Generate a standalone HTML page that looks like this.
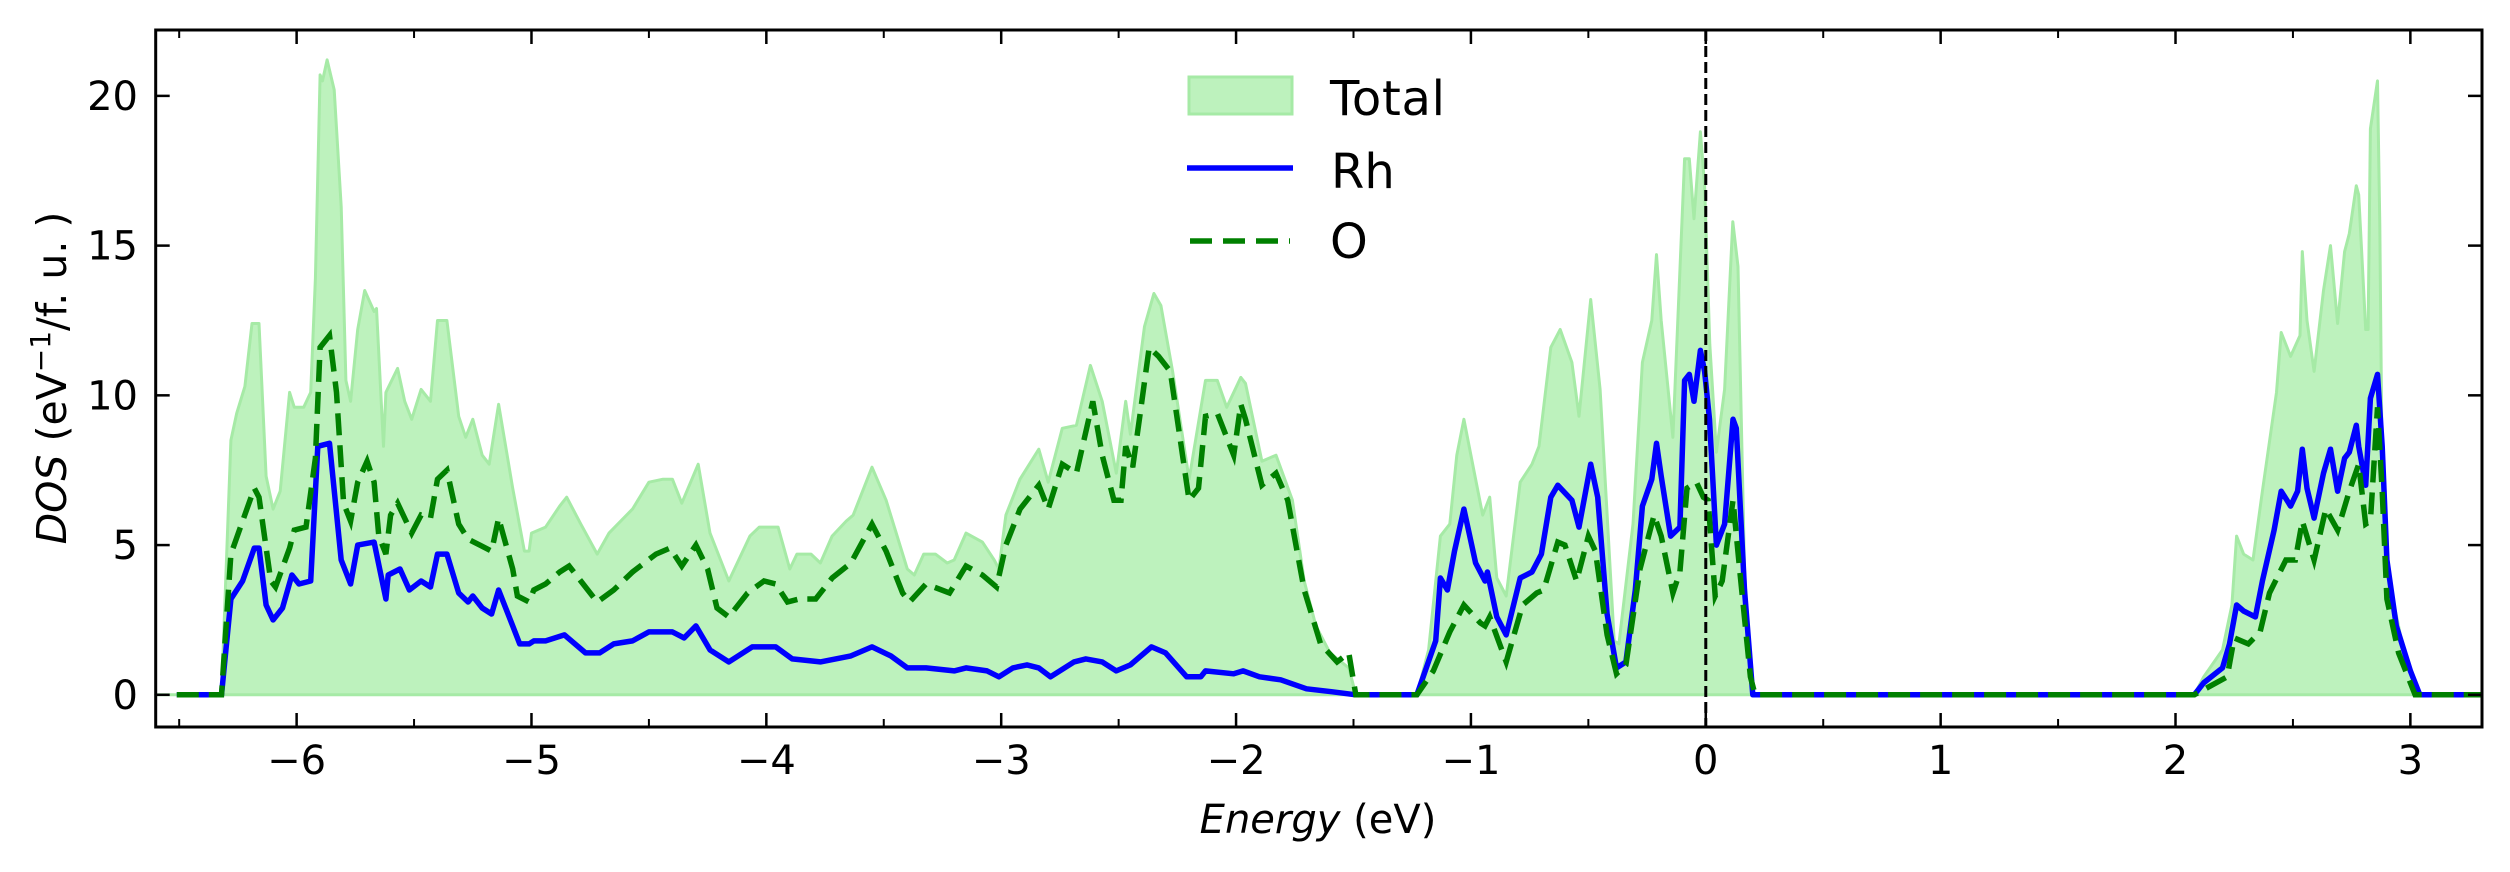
<!DOCTYPE html>
<html><head><meta charset="utf-8">
<style>
html,body{margin:0;padding:0;background:#fff;}
svg{display:block;font-family:"DejaVu Sans","Liberation Sans",sans-serif;}
</style></head>
<body>
<svg id="chart" width="2510" height="872" viewBox="0 0 2510 872" xmlns="http://www.w3.org/2000/svg">
<rect width="2510" height="872" fill="#fff"/>
<g id="plot"></g>
<g id="axes"></g>
<g>
  <rect x="1189" y="77" width="103" height="37" fill="#bdf2bd" stroke="#a6eaa6" stroke-width="3"/>
  <text x="1330" y="115" font-size="48" textLength="115">Total</text>
  <line x1="1187" y1="168" x2="1293" y2="168" stroke="#0000ff" stroke-width="5.5"/>
  <text x="1331" y="188" font-size="48">Rh</text>
  <line x1="1190" y1="241" x2="1290" y2="241" stroke="#008000" stroke-width="5.5" stroke-dasharray="22 11"/>
  <text x="1330" y="258" font-size="48">O</text>
</g>
<text x="1318" y="833" font-size="40" text-anchor="middle"><tspan font-style="italic">Energy</tspan> (eV)</text>
<text transform="translate(66,378) rotate(-90)" font-size="41" text-anchor="middle"><tspan font-style="italic">DOS</tspan> (eV<tspan baseline-shift="super" font-size="28">−1</tspan>/f. u. )</text>
</svg>
<script>
const xTicks = [-6,-5,-4,-3,-2,-1,0,1,2,3];
const xTickLabels = ["−6","−5","−4","−3","−2","−1","0","1","2","3"];
const xMinorTicks = [-6.5,-5.5,-4.5,-3.5,-2.5,-1.5,-0.5,0.5,1.5,2.5];
const yTicks = [0,5,10,15,20];
const yTickLabels = ["0","5","10","15","20"];
const fermiLevel = 0;

const totalE = [-6.6,-6.32,-6.28,-6.255,-6.22,-6.19,-6.16,-6.13,-6.10,-6.07,-6.03,-6.01,-5.97,-5.94,-5.92,-5.90,-5.89,-5.87,-5.84,-5.81,-5.79,-5.77,-5.74,-5.71,-5.67,-5.66,-5.63,-5.62,-5.57,-5.54,-5.51,-5.47,-5.43,-5.40,-5.36,-5.31,-5.28,-5.25,-5.21,-5.18,-5.14,-5.08,-5.03,-5.01,-5.0,-4.94,-4.88,-4.85,-4.79,-4.72,-4.67,-4.57,-4.50,-4.44,-4.40,-4.36,-4.29,-4.24,-4.16,-4.07,-4.03,-3.95,-3.90,-3.87,-3.81,-3.77,-3.72,-3.66,-3.63,-3.55,-3.49,-3.40,-3.37,-3.33,-3.28,-3.23,-3.20,-3.15,-3.08,-3.03,-3.01,-2.98,-2.92,-2.84,-2.80,-2.74,-2.68,-2.62,-2.57,-2.51,-2.47,-2.45,-2.39,-2.35,-2.32,-2.27,-2.20,-2.13,-2.08,-2.04,-1.98,-1.96,-1.89,-1.83,-1.76,-1.71,-1.66,-1.60,-1.52,-1.49,-1.23,-1.18,-1.13,-1.09,-1.06,-1.03,-0.98,-0.95,-0.92,-0.89,-0.85,-0.79,-0.74,-0.71,-0.66,-0.62,-0.57,-0.54,-0.49,-0.45,-0.39,-0.37,-0.31,-0.27,-0.23,-0.21,-0.19,-0.14,-0.09,-0.07,-0.05,-0.023,-0.005,0.017,0.045,0.08,0.115,0.137,0.165,0.194,2.08,2.12,2.20,2.24,2.26,2.29,2.33,2.37,2.43,2.45,2.49,2.53,2.54,2.56,2.59,2.63,2.66,2.69,2.72,2.74,2.77,2.78,2.81,2.82,2.83,2.86,2.87,2.88,2.91,2.96,3.03,3.3];
const totalV = [0,0,8.5,9.4,10.3,12.4,12.4,7.3,6.2,6.8,10.1,9.6,9.6,10.1,13.9,20.7,20.5,21.2,20.2,16.3,10.5,9.8,12.2,13.5,12.8,12.9,8.3,10.1,10.9,9.8,9.2,10.2,9.8,12.5,12.5,9.3,8.6,9.2,8.0,7.7,9.7,6.9,4.8,4.8,5.4,5.6,6.3,6.6,5.7,4.7,5.4,6.2,7.1,7.2,7.2,6.4,7.7,5.4,3.8,5.3,5.6,5.6,4.2,4.7,4.7,4.4,5.3,5.8,6.0,7.6,6.5,4.2,4.0,4.7,4.7,4.4,4.5,5.4,5.1,4.5,4.2,6.0,7.2,8.2,7.1,8.9,9.0,11.0,9.8,7.4,9.8,8.7,12.3,13.4,13.0,10.8,7.2,10.5,10.5,9.6,10.6,10.4,7.8,8.0,6.5,3.8,2.3,1.4,0.9,0,0,1.5,5.3,5.7,8.0,9.2,7.2,6.0,6.6,3.9,3.3,7.1,7.7,8.3,11.6,12.2,11.1,9.3,13.2,10.2,1.8,1.7,5.7,11.1,12.5,14.7,12.5,8.6,17.9,17.9,15.9,18.8,17.0,11.7,8.1,10.2,15.8,14.3,4.2,0,0,0.6,1.5,3.0,5.3,4.7,4.5,6.8,10.1,12.1,11.3,12.0,14.8,12.5,10.8,13.5,15.0,12.4,14.8,15.4,17.0,16.7,12.2,12.2,18.9,20.5,15.7,7.3,3.8,1.9,0,0];

const rhE = [-6.51,-6.32,-6.28,-6.23,-6.18,-6.16,-6.13,-6.10,-6.06,-6.02,-5.99,-5.94,-5.91,-5.86,-5.81,-5.77,-5.74,-5.67,-5.62,-5.61,-5.56,-5.52,-5.47,-5.43,-5.40,-5.36,-5.31,-5.27,-5.25,-5.21,-5.17,-5.14,-5.08,-5.05,-5.01,-4.99,-4.94,-4.86,-4.77,-4.71,-4.65,-4.57,-4.50,-4.40,-4.35,-4.30,-4.24,-4.16,-4.06,-3.96,-3.89,-3.77,-3.64,-3.55,-3.47,-3.40,-3.32,-3.20,-3.15,-3.06,-3.01,-2.95,-2.89,-2.84,-2.79,-2.69,-2.64,-2.57,-2.51,-2.45,-2.36,-2.30,-2.21,-2.15,-2.13,-2.01,-1.97,-1.90,-1.81,-1.70,-1.59,-1.49,-1.23,-1.15,-1.13,-1.10,-1.07,-1.03,-0.98,-0.94,-0.93,-0.89,-0.85,-0.79,-0.74,-0.70,-0.66,-0.63,-0.57,-0.54,-0.49,-0.46,-0.42,-0.38,-0.34,-0.30,-0.27,-0.23,-0.21,-0.19,-0.15,-0.11,-0.09,-0.07,-0.05,-0.023,-0.005,0.016,0.045,0.08,0.116,0.13,0.165,0.20,2.08,2.12,2.20,2.23,2.26,2.29,2.34,2.37,2.42,2.45,2.49,2.52,2.54,2.56,2.59,2.63,2.66,2.69,2.72,2.74,2.77,2.78,2.81,2.83,2.86,2.88,2.90,2.94,3.00,3.04,3.3];
const rhV = [0,0,3.2,3.8,4.9,4.9,3.0,2.5,2.9,4.0,3.7,3.8,8.3,8.4,4.5,3.7,5.0,5.1,3.2,4.0,4.2,3.5,3.8,3.6,4.7,4.7,3.4,3.1,3.3,2.9,2.7,3.5,2.3,1.7,1.7,1.8,1.8,2.0,1.4,1.4,1.7,1.8,2.1,2.1,1.9,2.3,1.5,1.1,1.6,1.6,1.2,1.1,1.3,1.6,1.3,0.9,0.9,0.8,0.9,0.8,0.6,0.9,1.0,0.9,0.6,1.1,1.2,1.1,0.8,1.0,1.6,1.4,0.6,0.6,0.8,0.7,0.8,0.6,0.5,0.2,0.1,0,0,1.8,3.9,3.5,4.8,6.2,4.4,3.8,4.1,2.6,2.0,3.9,4.1,4.7,6.6,7.0,6.5,5.6,7.7,6.6,2.7,0.9,1.1,3.5,6.3,7.2,8.4,7.3,5.3,5.6,10.5,10.7,9.8,11.5,10.8,9.2,5.0,5.7,9.2,8.9,3.5,0,0,0.4,0.9,1.7,3.0,2.8,2.6,3.8,5.5,6.8,6.3,6.8,8.2,6.9,5.9,7.4,8.2,6.8,7.9,8.1,9.0,8.3,7.0,9.9,10.7,8.3,4.5,2.3,0.8,0,0];

const oE = [-6.51,-6.32,-6.28,-6.23,-6.18,-6.16,-6.11,-6.09,-6.03,-6.01,-5.96,-5.92,-5.90,-5.86,-5.83,-5.80,-5.77,-5.74,-5.70,-5.67,-5.65,-5.62,-5.60,-5.57,-5.51,-5.47,-5.43,-5.40,-5.36,-5.31,-5.27,-5.22,-5.17,-5.14,-5.08,-5.06,-5.01,-4.99,-4.94,-4.88,-4.84,-4.79,-4.72,-4.65,-4.57,-4.47,-4.41,-4.36,-4.30,-4.25,-4.21,-4.16,-4.08,-4.01,-3.96,-3.91,-3.86,-3.79,-3.72,-3.64,-3.55,-3.49,-3.42,-3.39,-3.32,-3.22,-3.15,-3.08,-3.02,-2.98,-2.92,-2.84,-2.80,-2.74,-2.68,-2.61,-2.57,-2.52,-2.49,-2.47,-2.44,-2.41,-2.37,-2.33,-2.28,-2.20,-2.16,-2.13,-2.08,-2.04,-2.01,-1.98,-1.96,-1.89,-1.83,-1.78,-1.71,-1.64,-1.57,-1.52,-1.49,-1.23,-1.16,-1.09,-1.03,-0.96,-0.94,-0.92,-0.85,-0.78,-0.72,-0.69,-0.63,-0.60,-0.55,-0.50,-0.47,-0.42,-0.38,-0.34,-0.28,-0.22,-0.19,-0.14,-0.11,-0.08,-0.04,-0.01,0.01,0.04,0.07,0.116,0.144,0.19,0.21,2.08,2.15,2.22,2.25,2.31,2.36,2.40,2.47,2.51,2.54,2.59,2.64,2.69,2.74,2.78,2.81,2.83,2.86,2.88,2.90,2.95,3.02,3.3];
const oV = [0,0,4.7,5.8,6.9,6.6,3.8,3.6,4.9,5.5,5.6,7.9,11.6,12.0,10.1,6.4,5.8,7.1,7.8,7.1,5.3,4.7,6.0,6.4,5.4,6.0,5.9,7.2,7.5,5.7,5.2,5.0,4.8,5.9,4.2,3.3,3.1,3.5,3.7,4.1,4.3,3.8,3.1,3.5,4.1,4.7,4.9,4.3,5.0,4.2,2.9,2.6,3.4,3.8,3.7,3.1,3.2,3.2,3.9,4.4,5.7,4.8,3.4,3.1,3.7,3.4,4.3,4.0,3.6,5.0,6.2,7.0,6.2,7.7,7.4,9.8,8.0,6.5,6.5,8.3,7.6,9.3,11.6,11.3,10.8,6.5,6.9,9.3,9.4,8.6,8.0,9.7,9.2,7.0,7.4,6.5,3.5,1.7,1.1,1.4,0,0,0.8,2.1,3.0,2.4,2.3,2.6,1.1,3.0,3.4,3.5,5.1,5.0,3.8,5.3,4.8,2.0,0.7,1.0,4.2,6.0,5.3,3.4,4.1,6.9,7.1,6.6,6.5,3.3,3.8,6.5,4.2,0.6,0,0,0.3,0.6,1.9,1.7,2.1,3.4,4.5,4.5,5.8,4.5,6.2,5.5,6.8,7.7,5.7,5.8,9.6,6.8,3.2,1.4,0,0];

const X0=155.7, X1=2482, Y0=30, Y1=727;
const xMin=-6.6, xMax=3.305, yMin=-1.075, yMax=22.2;
function sx(e){return X0+(e-xMin)/(xMax-xMin)*(X1-X0);}
function sy(v){return Y1-(v-yMin)/(yMax-yMin)*(Y1-Y0);}
const NS="http://www.w3.org/2000/svg";
const plot=document.getElementById('plot'), axes=document.getElementById('axes');
function mk(tag,attrs,parent){const el=document.createElementNS(NS,tag);for(const k in attrs)el.setAttribute(k,attrs[k]);parent.appendChild(el);return el;}
function linePath(E,V){return E.map((e,i)=>(i?'L':'M')+sx(e).toFixed(1)+','+sy(V[i]).toFixed(1)).join('');}

const totalFill=mk('path',{d:linePath(totalE,totalV)+'L'+sx(totalE[totalE.length-1])+','+sy(0)+'L'+sx(totalE[0])+','+sy(0)+'Z',fill:'#bdf2bd',stroke:'#a6eaa6','stroke-width':3,'stroke-linejoin':'round'},plot);


const rhLine=mk('path',{d:linePath(rhE,rhV),fill:'none',stroke:'#0000ff','stroke-width':5.5,'stroke-linejoin':'round'},plot);


const oLine=mk('path',{d:linePath(oE,oV),fill:'none',stroke:'#008000','stroke-width':5.5,'stroke-dasharray':'22 10'},plot);


const fermi=mk('line',{x1:sx(fermiLevel),x2:sx(fermiLevel),y1:Y0,y2:Y1,stroke:'#000','stroke-width':3,'stroke-dasharray':'11 5'},plot);



const frame=mk('rect',{x:X0,y:Y0,width:X1-X0,height:Y1-Y0,fill:'none',stroke:'#000','stroke-width':3},axes);


xTicks.forEach((t,i)=>{
  const x=sx(t);
  const tb=mk('line',{x1:x,x2:x,y1:Y1,y2:Y1-14,stroke:'#000','stroke-width':2.5},axes);
  
  
  const tt=mk('line',{x1:x,x2:x,y1:Y0,y2:Y0+14,stroke:'#000','stroke-width':2.5},axes);
  
  
  const lb=mk('text',{x:x,y:774,'font-size':40,'text-anchor':'middle'},axes);
  lb.textContent=xTickLabels[i];
  
  
});
xMinorTicks.forEach(t=>{
  const x=sx(t);
  const a=mk('line',{x1:x,x2:x,y1:Y1,y2:Y1-8,stroke:'#000','stroke-width':2},axes);
  
  
  const b=mk('line',{x1:x,x2:x,y1:Y0,y2:Y0+8,stroke:'#000','stroke-width':2},axes);
  
  
});
yTicks.forEach((t,i)=>{
  const y=sy(t);
  const l=mk('line',{x1:X0,x2:X0+14,y1:y,y2:y,stroke:'#000','stroke-width':2.5},axes);
  
  
  const r=mk('line',{x1:X1,x2:X1-14,y1:y,y2:y,stroke:'#000','stroke-width':2.5},axes);
  
  
  const lb=mk('text',{x:138,y:y+14,'font-size':40,'text-anchor':'end'},axes);
  lb.textContent=yTickLabels[i];
  
  
});
</script>
</body></html>
